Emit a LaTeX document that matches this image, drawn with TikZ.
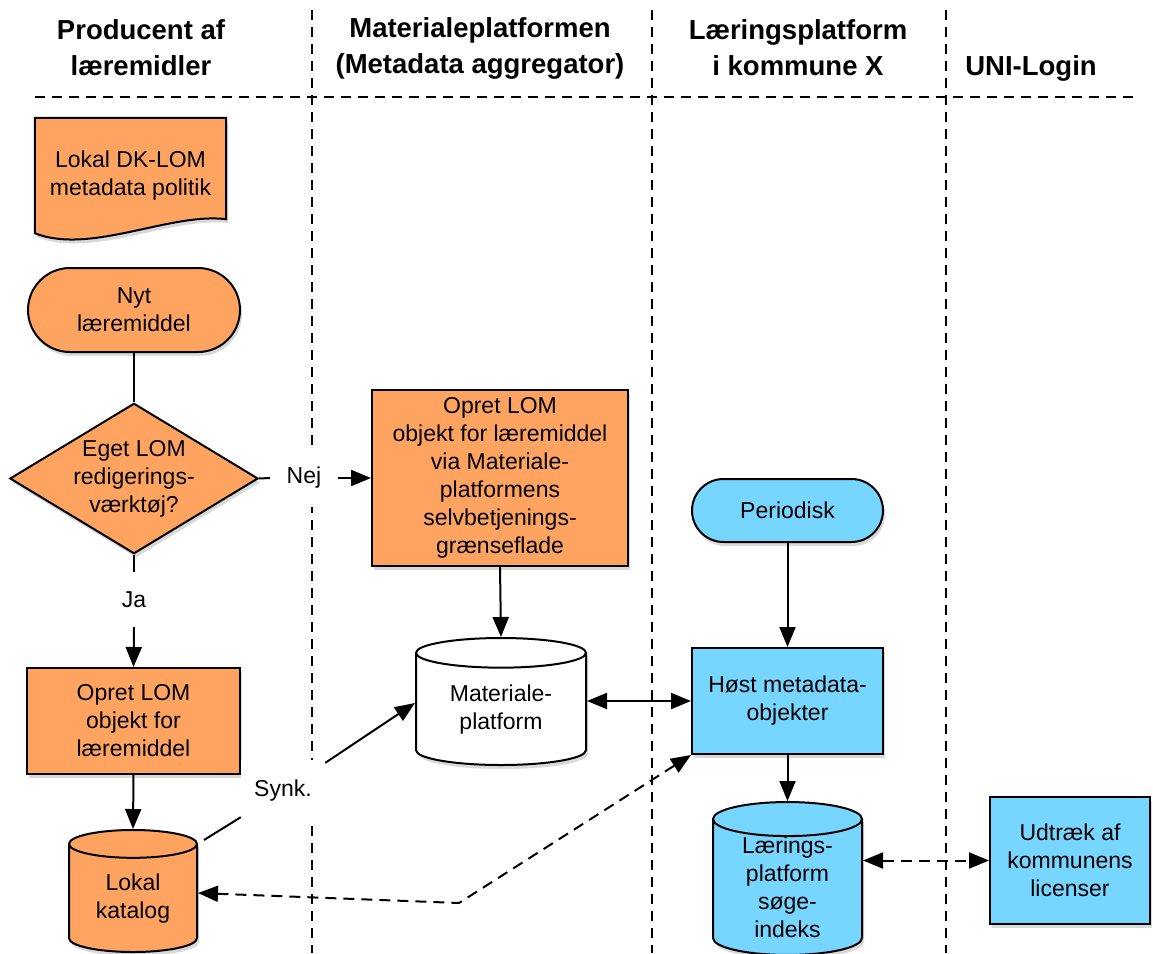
\documentclass[tikz,border=0pt]{standalone}
\usepackage{fontspec}
\setmainfont{Liberation Sans}
\usetikzlibrary{shapes.geometric,shapes.misc,arrows.meta,calc,shadows}
\definecolor{orng}{RGB}{255,164,96}
\definecolor{skyb}{RGB}{118,214,255}
\tikzset{
  shad/.style={drop shadow={opacity=0.3, shadow xshift=2pt, shadow yshift=-4pt}},
  box/.style={draw, line width=2pt, align=center, inner sep=0pt, shad},
  obox/.style={box, fill=orng},
  bbox/.style={box, fill=skyb},
  cyl/.style={cylinder, shape border rotate=90, anchor=shape center},
  term/.style={rounded rectangle},
  conn/.style={line width=2pt},
  arr/.style={conn, -{Triangle[length=20pt,width=16pt]}},
  darr/.style={conn, {Triangle[length=20pt,width=16pt]}-{Triangle[length=20pt,width=16pt]}},
  dsh/.style={dash pattern=on 11pt off 7pt},
  lane/.style={line width=1.7pt, dash pattern=on 10pt off 7pt},
  lbl/.style={fill=white, inner sep=0pt},
  hdr/.style={align=center, font=\fontsize{27.5}{36}\selectfont\bfseries}
}
\begin{document}
\begin{tikzpicture}[x=1pt, y=-1pt, font=\fontsize{23}{28}\selectfont]
\useasboundingbox (0,0) rectangle (1153,953);
% lanes
\draw[lane] (35,97) -- (1140,97);
\draw[lane] (312,10) -- (312,953);
\draw[lane] (652,10) -- (652,953);
\draw[lane] (946,10) -- (946,953);
% headers
\node[hdr] (h1) at (141,48) {Producent af\\læremidler};
\node[hdr] (h2) at (480,48) {Materialeplatformen\\(Metadata aggregator)};
\node[hdr] (h3) at (798,48) {Læringsplatform\\i kommune X};
\node[hdr] (h4) at (1031,68) {UNI-Login};
% document
\node[minimum width=191, minimum height=115, inner sep=0pt] (doc) at (130.5,175.5) {};
\path[draw, line width=2pt, fill=orng, shad] (doc.north west) -- (doc.north east) -- ($(doc.south east)+(0,-14)$)
  .. controls ($(doc.south east)+(-56,-21)$) and ($(doc.south west)+(55,22)$) .. (doc.south west) -- cycle;
\node[align=center, inner sep=0pt] (doctxt) at (doc.center) {Lokal DK-LOM\\metadata politik};
% nodes
\node[obox, term, minimum width=212, minimum height=84] (nyt) at (134,310) {Nyt\\læremiddel};
\node[obox, diamond, aspect=1.65, minimum width=246, minimum height=149] (q) at (134,478.5) {Eget LOM\\redigerings-\\værktøj?};
\node[obox, minimum width=213, minimum height=106] (a1) at (133.5,721) {Opret LOM\\objekt for\\læremiddel};
\node[obox, cyl, aspect=0.375, minimum width=128, minimum height=122] (lokal) at (133,891) {Lokal\\katalog};
\node[obox, minimum width=256, minimum height=176] (via) at (500,478) {Opret LOM\\objekt for læremiddel\\via Materiale-\\platformens\\selvbetjenings-\\grænseflade};
\node[box, fill=white, cyl, aspect=0.29, minimum width=170, minimum height=127] (mat) at (501,701.5) {Materiale-\\platform};
\node[bbox, term, minimum width=191, minimum height=63] (per) at (787.5,510.5) {Periodisk};
\node[bbox, minimum width=191, minimum height=106] (hoest) at (787.5,701) {Høst metadata-\\objekter};
\node[bbox, cyl, aspect=0.375, minimum width=149, minimum height=145] (lp) at (787.5,878.5) {Lærings-\\platform\\søge-\\indeks};
\node[bbox, minimum width=160, minimum height=127] (udt) at (1070,860.5) {Udtræk af\\kommunens\\licenser};
% labels
\node[lbl, minimum width=68, minimum height=57] (nej) at (304,478) {Nej};
\node[lbl, minimum width=50, minimum height=55] (ja) at (134,599.5) {Ja};
\node[lbl, minimum width=84, minimum height=63] (synk) at (283,791) {Synk.};
\coordinate (bend) at (459,903);
% connectors
\draw[conn] (nyt.south) -- (q.north);
\draw[conn] (q.east) -- (nej.west);
\draw[arr] (nej.east) -- (via.west);
\draw[conn] (q.south) -- (ja.north);
\draw[arr] (ja.south) -- (a1.north);
\draw[arr] (a1.south) -- (lokal.north);
\draw[conn] ($(lokal.shape center)+(71,-51)$) -- (synk);
\draw[arr] (synk) -- ($(mat.shape center)+(-86,1.5)$);
\draw[arr] (via.south) -- (mat.north);
\draw[darr] (hoest.west -| mat.east) -- (hoest.west);
\draw[arr] (per.south) -- (hoest.north);
\draw[arr] (hoest.south) -- (lp.north);
\draw[darr, dsh] ($(lokal.shape center)+(65,2)$) -- (bend) -- (hoest.south west);
\draw[darr, dsh] (udt.west -| lp.east) -- (udt.west);
\end{tikzpicture}
\end{document}
